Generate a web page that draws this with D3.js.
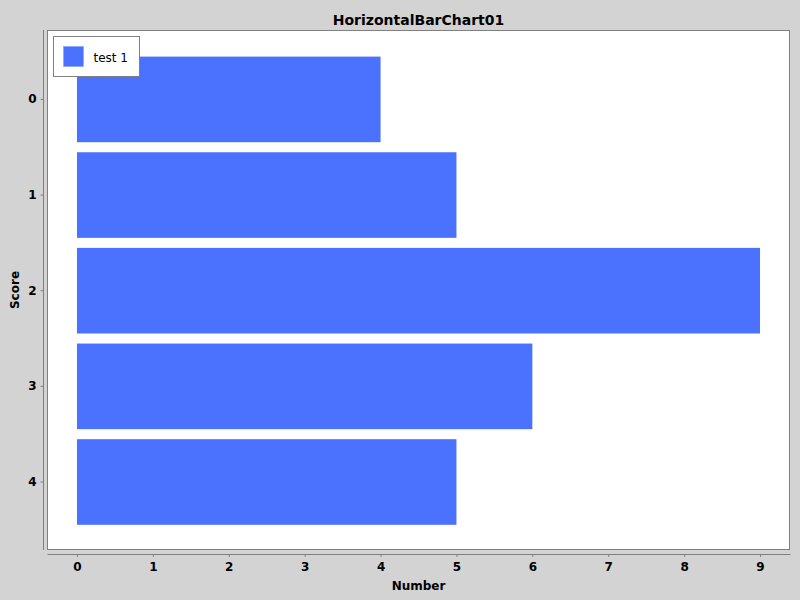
<!DOCTYPE html>
<html>
<head>
<meta charset="utf-8">
<script src="https://cdn.jsdelivr.net/npm/d3@7"></script>
<style>
  body { margin: 0; background: #d3d3d3; }
  text { font-family: "DejaVu Sans", sans-serif; }
</style>
</head>
<body>
<div id="chart"></div>
<script>
// Chart data
var categories = ["0", "1", "2", "3", "4"];
var values = [4, 5, 9, 6, 5];
var seriesName = "test 1";
var xTicks = [0, 1, 2, 3, 4, 5, 6, 7, 8, 9];

var svgWidth = 800;
var svgHeight = 600;

// plot area (white box)
var plot = { left: 47, top: 30, right: 790, bottom: 550 };

var svg = d3.select("#chart")
  .append("svg")
  .attr("width", svgWidth)
  .attr("height", svgHeight);

svg.append("rect")
  .attr("width", svgWidth)
  .attr("height", svgHeight)
  .attr("fill", "#d3d3d3");

svg.append("rect")
  .attr("x", plot.left + 0.5)
  .attr("y", plot.top + 0.5)
  .attr("width", plot.right - plot.left - 1)
  .attr("height", plot.bottom - plot.top - 1)
  .attr("fill", "#ffffff")
  .attr("stroke", "#808080");

// Scales
var xScale = d3.scaleLinear()
  .domain([-0.395, 9.395])
  .range([plot.left, plot.right]);

// category band, with the margins at top and bottom of the plot
var yScale = d3.scaleBand()
  .domain(categories)
  .range([plot.top + 26.6, plot.bottom - 25.2])
  .paddingInner(0.105)
  .paddingOuter(0);

// Bars
svg.append("g")
  .selectAll("rect")
  .data(values)
  .enter()
  .append("rect")
  .attr("x", xScale(0))
  .attr("y", (d, i) => yScale(categories[i]))
  .attr("width", d => xScale(d) - xScale(0))
  .attr("height", yScale.bandwidth())
  .attr("fill", "#4a72ff");

// Axes
var bottomAxis = d3.axisBottom(xScale)
  .tickValues(xTicks)
  .tickFormat(d3.format("d"))
  .tickSizeInner(3)
  .tickSizeOuter(0)
  .tickPadding(5);

var xAxis = svg.append("g")
  .attr("transform", `translate(0, ${plot.bottom + 4})`)
  .call(bottomAxis);

var leftAxis = d3.axisLeft(yScale)
  .tickSizeInner(3)
  .tickSizeOuter(0)
  .tickPadding(4);

var yAxis = svg.append("g")
  .attr("transform", `translate(${plot.left - 3.5}, 0)`)
  .call(leftAxis);

// category axis line runs the full plot height
yAxis.select(".domain").remove();
yAxis.append("line")
  .attr("y1", plot.top)
  .attr("y2", plot.bottom)
  .attr("stroke", "#808080");

[xAxis, yAxis].forEach(function(ax) {
  ax.select(".domain").attr("stroke", "#808080");
  ax.selectAll(".tick line").attr("stroke", "#808080");
  ax.selectAll(".tick text")
    .attr("font-family", "DejaVu Sans")
    .attr("font-size", 12)
    .attr("font-weight", "bold")
    .attr("fill", "#000");
});

// Titles
var midX = (plot.left + plot.right) / 2;
var midY = (plot.top + plot.bottom) / 2;

svg.append("text")
  .attr("x", midX)
  .attr("y", 25)
  .attr("text-anchor", "middle")
  .attr("font-size", 14)
  .attr("font-weight", "bold")
  .text("HorizontalBarChart01");

svg.append("text")
  .attr("x", midX)
  .attr("y", 590)
  .attr("text-anchor", "middle")
  .attr("font-size", 12)
  .attr("font-weight", "bold")
  .text("Number");

svg.append("text")
  .attr("transform", `translate(19, ${midY}) rotate(-90)`)
  .attr("text-anchor", "middle")
  .attr("font-size", 12)
  .attr("font-weight", "bold")
  .text("Score");

// Legend
var legend = svg.append("g")
  .attr("transform", "translate(53.5, 36.5)");

legend.append("rect")
  .attr("width", 86)
  .attr("height", 40)
  .attr("fill", "#ffffff")
  .attr("stroke", "#808080");

legend.append("rect")
  .attr("x", 10)
  .attr("y", 10)
  .attr("width", 20)
  .attr("height", 20)
  .attr("fill", "#4a72ff")
  .attr("stroke", "#7f9cff")
  .attr("stroke-width", 0.5);

legend.append("text")
  .attr("x", 40)
  .attr("y", 25)
  .attr("font-size", 12)
  .text(seriesName);
</script>
</body>
</html>
